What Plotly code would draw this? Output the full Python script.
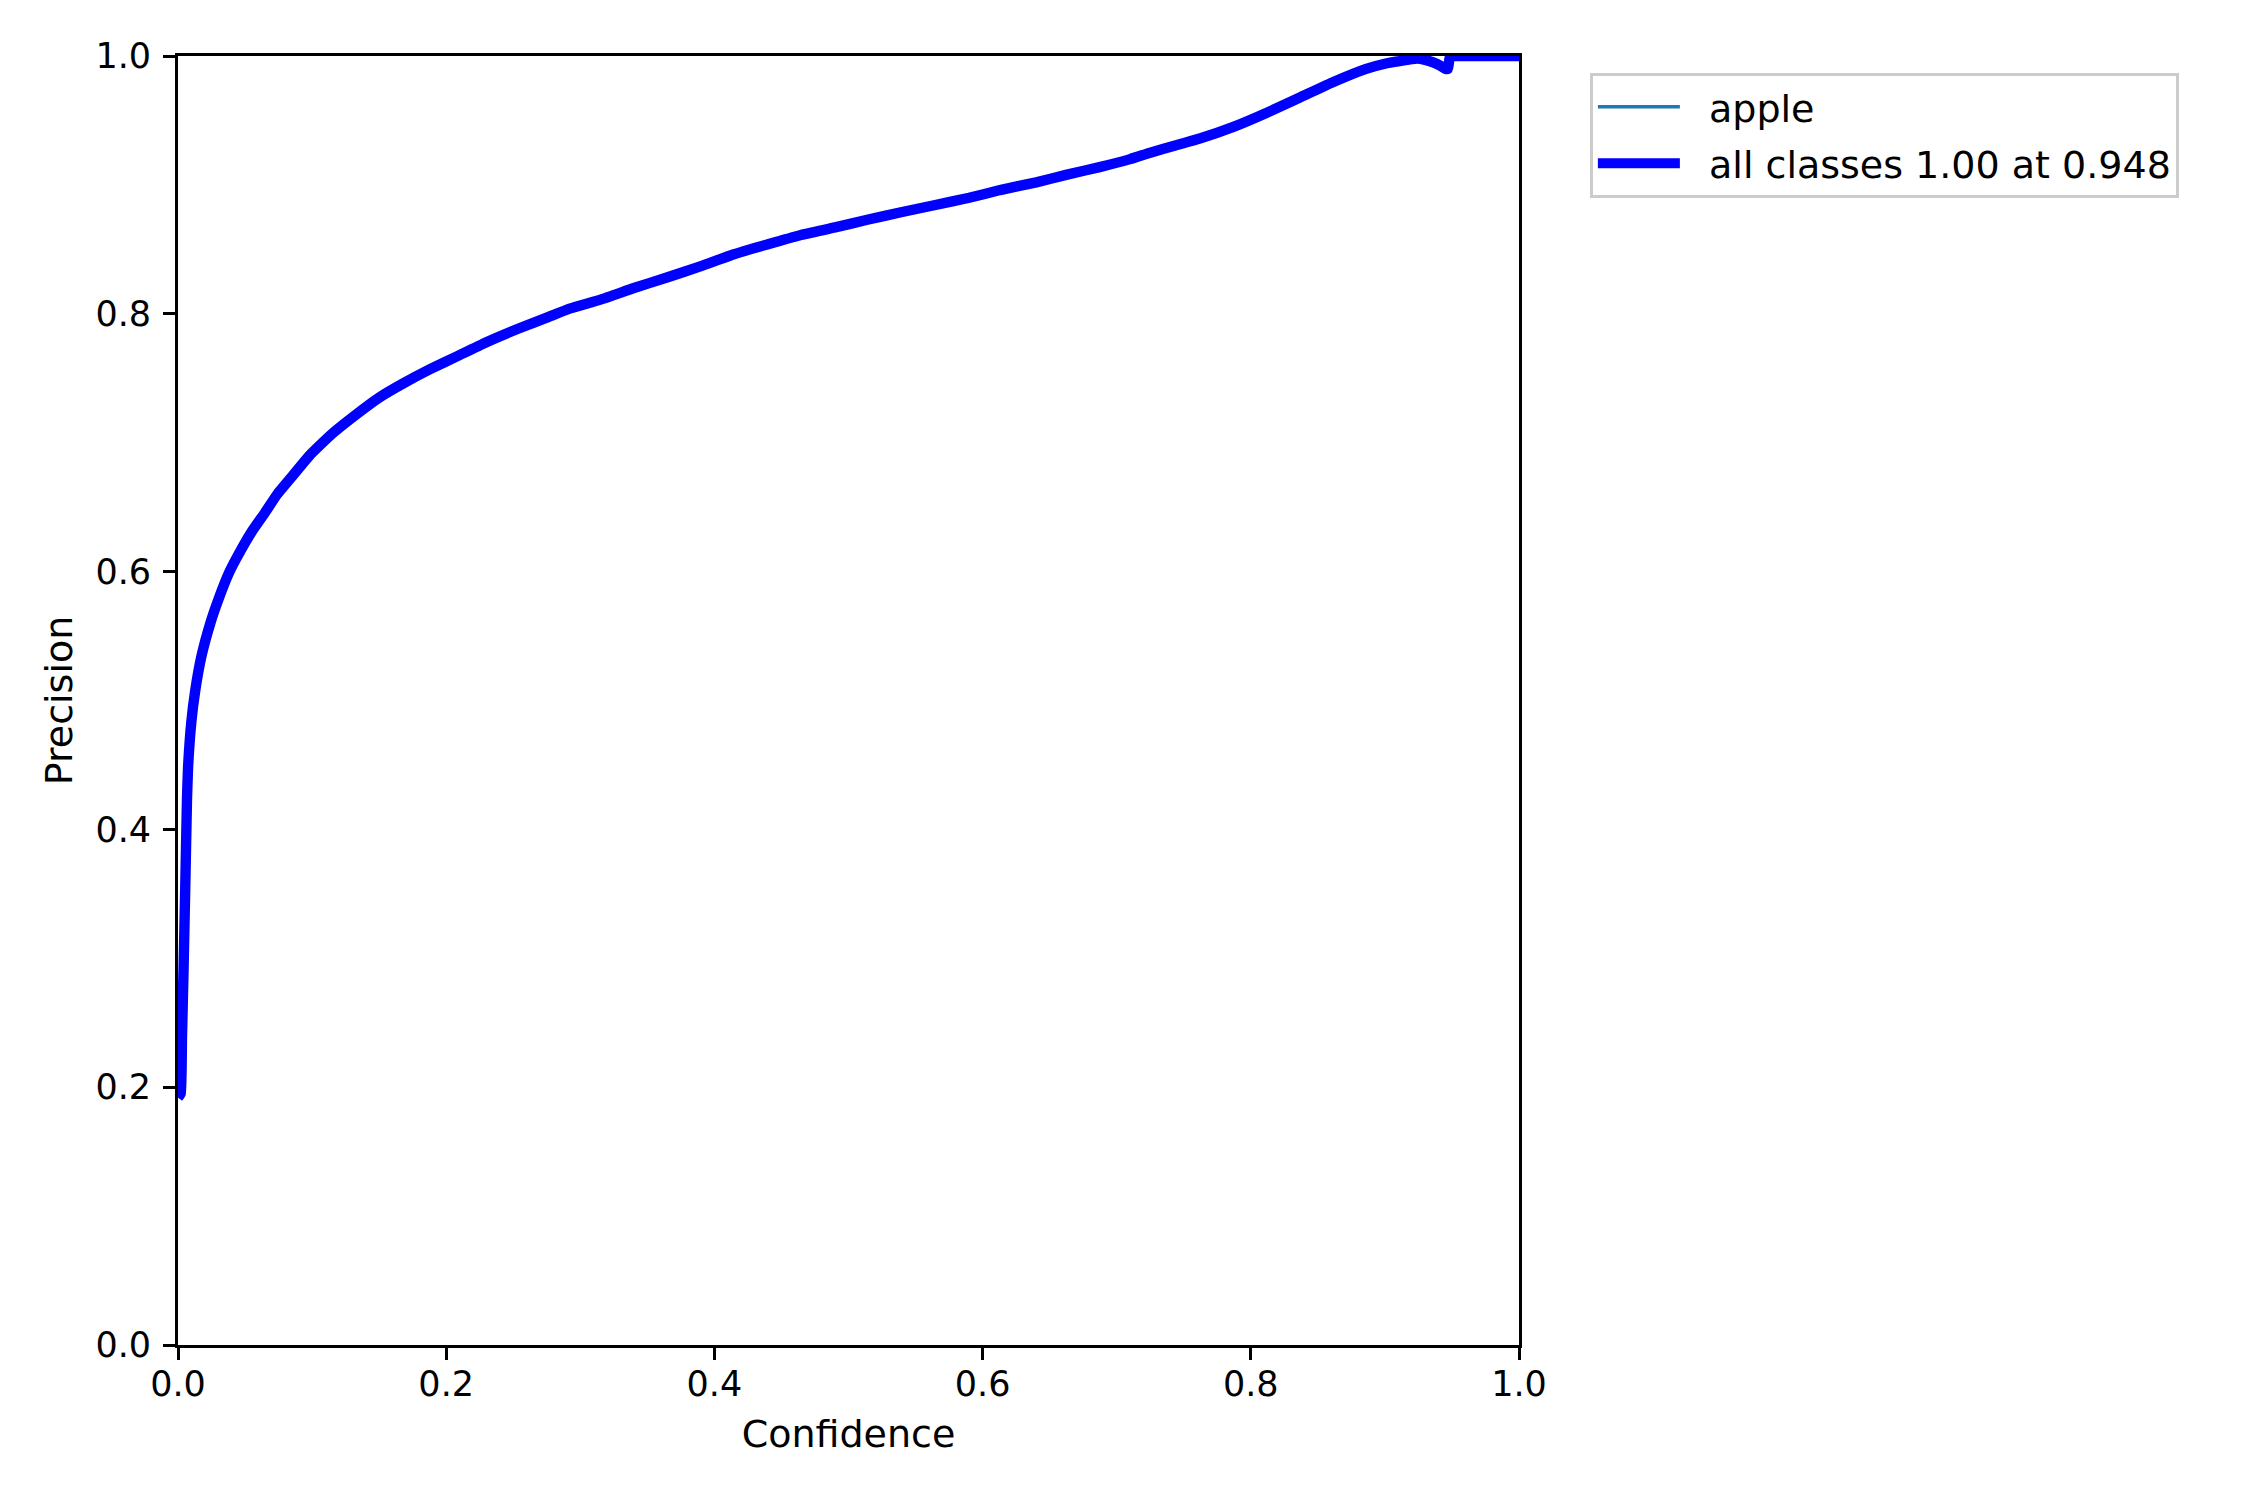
import plotly.graph_objects as go

# Data
confidence = [0.0, 0.002, 0.003, 0.0042, 0.0055, 0.0067, 0.0075, 0.0099, 0.0129, 0.0174,
              0.0241, 0.030, 0.038, 0.046, 0.055, 0.065, 0.074, 0.086, 0.098, 0.115,
              0.133, 0.15, 0.168, 0.188, 0.208, 0.23, 0.255, 0.275, 0.292, 0.315, 0.34,
              0.364, 0.39, 0.414, 0.44, 0.464, 0.49, 0.514, 0.54, 0.563, 0.59, 0.613,
              0.64, 0.663, 0.688, 0.71, 0.725, 0.745, 0.762, 0.787, 0.812, 0.837, 0.862,
              0.886, 0.9, 0.911, 0.924, 0.93, 0.936, 0.942, 0.945, 0.947, 0.9485, 0.95, 1.0]
precision_all = [0.192, 0.195, 0.24, 0.294, 0.36, 0.423, 0.448, 0.483, 0.508, 0.534,
                 0.560, 0.578, 0.599, 0.615, 0.631, 0.646, 0.660, 0.675, 0.690, 0.707,
                 0.722, 0.735, 0.746, 0.757, 0.767, 0.778, 0.789, 0.797, 0.804, 0.811, 0.82,
                 0.828, 0.837, 0.846, 0.854, 0.861, 0.867, 0.873, 0.879, 0.884, 0.89, 0.896,
                 0.902, 0.908, 0.914, 0.92, 0.925, 0.931, 0.936, 0.945, 0.956, 0.968, 0.980,
                 0.990, 0.994, 0.996, 0.998, 0.997, 0.995, 0.992, 0.990, 0.990, 1.0, 1.0, 1.0]
precision_apple = list(precision_all)

class_name = "apple"
all_label = "all classes 1.00 at 0.948"
ticks = [0.0, 0.2, 0.4, 0.6, 0.8, 1.0]
tick_text = ["0.0", "0.2", "0.4", "0.6", "0.8", "1.0"]

FONT = "DejaVu Sans"
FS_TICK = 35
FS_LABEL = 38

GAP = "\u00a0\u00a0"

fig = go.Figure()
fig.add_trace(go.Scatter(x=confidence, y=precision_apple, mode="lines", name=GAP + class_name,
                         legendgroup="a",
                         line=dict(color="#1f77b4", width=3.5, shape="spline", smoothing=0.4)))
fig.add_trace(go.Scatter(x=confidence, y=precision_all, mode="lines", name=GAP + all_label,
                         legendgroup="b",
                         line=dict(color="#0000ff", width=10.4, shape="spline", smoothing=0.4)))

axis_common = dict(
    range=[0, 1], tickvals=ticks, ticktext=tick_text, showgrid=False, zeroline=False,
    showline=True, mirror=True, linecolor="black", linewidth=2.8,
    ticks="outside", ticklen=12, tickwidth=2.8, tickcolor="black",
    tickfont=dict(family=FONT, size=FS_TICK, color="black"),
)

# page body has an 8px margin, so figure is sized to fit inside 2250x1500
fig.update_layout(
    width=2234, height=1484,
    paper_bgcolor="white", plot_bgcolor="white",
    margin=dict(l=170, r=723, t=48, b=147),
    font=dict(family=FONT, size=FS_TICK, color="black"),
    xaxis=dict(**axis_common, ticklabelstandoff=-6,
               title=dict(text="Confidence", font=dict(family=FONT, size=FS_LABEL), standoff=18)),
    yaxis=dict(**axis_common, ticklabelstandoff=5,
               title=dict(text="Precision", font=dict(family=FONT, size=FS_LABEL), standoff=12)),
    legend=dict(x=1.053, y=0.987, xanchor="left", yanchor="top",
                bordercolor="#cccccc", borderwidth=2.8, bgcolor="white",
                font=dict(family=FONT, size=FS_LABEL, color="black"), itemwidth=82,
                tracegroupgap=4),
    showlegend=True,
)

fig.write_html("out.html")
